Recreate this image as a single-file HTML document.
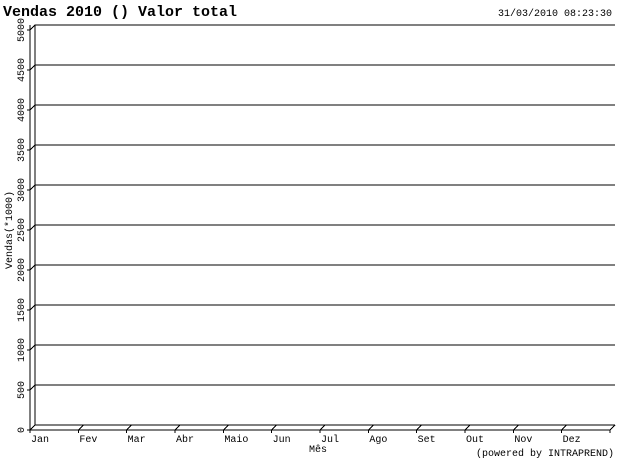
<!DOCTYPE html>
<html><head><meta charset="utf-8"><style>
html,body{margin:0;padding:0;background:#fff;}
svg{display:block;font-family:"Liberation Mono","DejaVu Sans Mono",monospace;}
line,polyline{shape-rendering:crispEdges;}
</style></head><body>
<svg id="chart" width="620" height="460" viewBox="0 0 620 460" xmlns="http://www.w3.org/2000/svg">
<text x="3" y="16" font-size="15" font-weight="bold">Vendas 2010 () Valor total</text>
<text x="612" y="16" font-size="10" text-anchor="end">31/03/2010 08:23:30</text>
<text transform="translate(12,230) rotate(-90)" font-size="10" text-anchor="middle">Vendas(*1000)</text>
<text x="318" y="452" font-size="10" text-anchor="middle">Mês</text>
<text x="614" y="456" font-size="10" text-anchor="end">(powered by INTRAPREND)</text>
<g id="grid"></g>
<g id="axes"></g>
</svg>
<script>
const months = ["Jan","Fev","Mar","Abr","Maio","Jun","Jul","Ago","Set","Out","Nov","Dez"];
const yTicks = [0,500,1000,1500,2000,2500,3000,3500,4000,4500,5000];
const yMax = 5000;
const NS = "http://www.w3.org/2000/svg";
const fx = 30, fy = 430, dx = 5, dy = 5, rightX = 615, topY = 25;
const backBottom = fy - dy;
function yScale(v){ return backBottom - (v / yMax) * (backBottom - topY); }
const step = (610 - fx) / months.length;
function xScale(i){ return fx + i * step; }
function mk(tag, attrs, parent){ const e = document.createElementNS(NS, tag); for (const k in attrs) e.setAttribute(k, attrs[k]); parent.appendChild(e); return e; }
const grid = document.getElementById('grid'), axes = document.getElementById('axes');
yTicks.forEach(v => {
  const y = yScale(v);
  if (v > 0) {
    const l = mk('line', {x1: fx + dx, y1: y, x2: rightX, y2: y, stroke: '#000', 'stroke-width': 1}, grid);
    
    
  }
  const t = mk('polyline', {points: `${fx-3},${y+dy} ${fx},${y+dy} ${fx+dx},${y}`, fill: 'none', stroke: '#000', 'stroke-width': 1}, axes);
  
  
  const lb = mk('text', {transform: `translate(24,${y+dy}) rotate(-90)`, 'font-size': 10, 'text-anchor': 'middle'}, axes);
  lb.textContent = v;
  
  
});
[[fx, fy, fx, topY], [fx + dx, backBottom, fx + dx, topY], [fx, fy, 610, fy], [fx + dx, backBottom, rightX, backBottom]].forEach(a => {
  const l = mk('line', {x1: a[0], y1: a[1], x2: a[2], y2: a[3], stroke: '#000', 'stroke-width': 1}, axes);
  
  
});
for (let i = 0; i <= months.length; i++) {
  const x = xScale(i);
  const t = mk('polyline', {points: `${x},${fy+3} ${x},${fy} ${x+dx},${backBottom}`, fill: 'none', stroke: '#000', 'stroke-width': 1}, axes);
  
  
  if (i < months.length) {
    const lb = mk('text', {x: x + 1, y: fy + 12, 'font-size': 10}, axes);
    lb.textContent = months[i];
    
    
  }
}
</script>
</body></html>
